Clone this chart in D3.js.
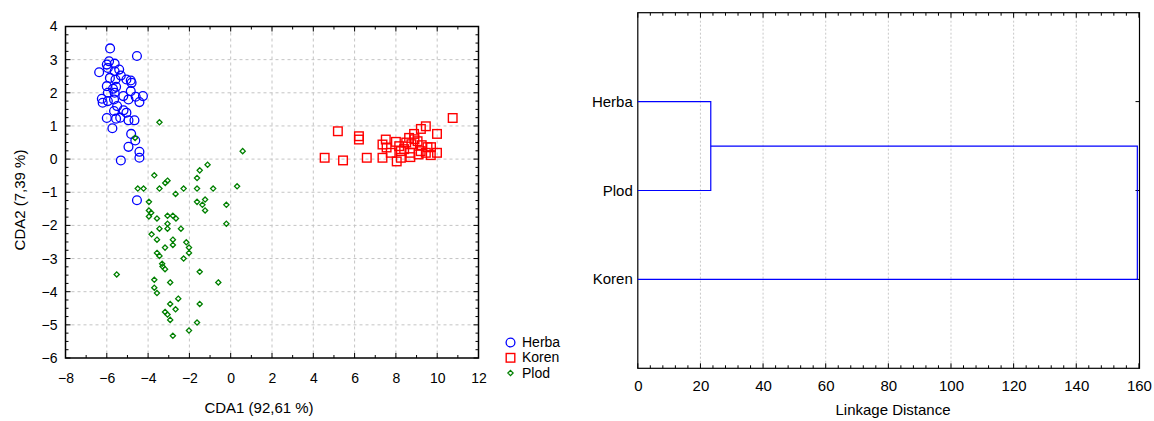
<!DOCTYPE html>
<html>
<head>
<meta charset="utf-8">
<script src="https://cdn.jsdelivr.net/npm/d3@7"></script>
<style>
  html, body { margin: 0; padding: 0; background: #fff; }
  svg { display: block; font-family: "Liberation Sans", Arial, sans-serif; }
</style>
</head>
<body>
<svg id="chart" width="1154" height="421"></svg>
<script>
// ---------------- DATA ----------------
const groups = ["Herba", "Koren", "Plod"];

const herbaPoints = [
  [-5.84,3.34],[-4.54,3.11],[-5.89,2.95],[-5.62,2.88],[-6.00,2.85],[-6.37,2.62],[-5.95,2.75],
  [-5.62,2.65],[-5.40,2.70],[-5.32,2.52],[-5.85,2.45],[-5.58,2.40],[-5.05,2.40],[-4.84,2.37],
  [-4.80,2.30],[-6.00,2.20],[-5.55,2.18],[-5.70,2.12],[-4.84,2.05],[-5.95,2.00],[-5.62,2.00],
  [-5.20,1.90],[-4.25,1.90],[-6.24,1.82],[-5.95,1.75],[-5.65,1.80],[-4.95,1.80],[-4.60,1.88],
  [-4.42,1.72],[-6.20,1.70],[-5.50,1.60],[-5.65,1.45],[-5.19,1.47],[-5.05,1.40],[-6.00,1.24],
  [-5.55,1.22],[-5.35,1.25],[-4.95,1.17],[-4.66,1.17],[-5.73,0.93],[-4.82,0.76],[-4.62,0.56],
  [-4.95,0.37],[-4.42,0.22],[-4.42,0.04],[-5.32,-0.04],[-4.54,-1.24]
];

const korenPoints = [
  [10.75,1.24],[9.45,0.99],[9.21,0.91],[8.88,0.76],[9.99,0.76],[5.19,0.84],[6.21,0.69],
  [6.21,0.59],[7.51,0.59],[8.00,0.52],[8.64,0.64],[9.05,0.54],[8.90,0.60],[7.35,0.44],
  [7.55,0.35],[8.16,0.39],[8.75,0.45],[9.53,0.36],[9.25,0.42],[9.70,0.36],[7.75,0.19],
  [8.24,0.24],[8.69,0.19],[9.20,0.24],[9.45,0.19],[9.99,0.19],[9.69,0.12],[9.10,0.14],
  [7.35,0.04],[8.24,0.04],[8.70,0.06],[4.55,0.04],[5.44,-0.04],[6.59,0.04],[8.04,-0.07],
  [8.50,0.50],[8.40,0.30]
];

const plodPoints = [
  [-3.45,1.11],[-4.63,0.64],[0.58,0.24],[-1.12,-0.17],[-1.50,-0.34],[-3.70,-0.49],[-3.06,-0.65],
  [-3.17,-0.72],[-1.63,-0.57],[-4.50,-0.89],[-4.22,-0.89],[-3.45,-0.89],[-2.28,-0.89],[-1.63,-0.89],
  [-0.85,-0.89],[0.31,-0.82],[-2.67,-1.05],[-3.96,-1.29],[-1.63,-1.29],[-1.24,-1.22],[-1.37,-1.38],
  [-0.21,-1.38],[-1.24,-1.55],[-3.96,-1.55],[-3.85,-1.62],[-3.96,-1.73],[-3.57,-1.79],[-3.06,-1.71],
  [-2.80,-1.71],[-2.65,-1.79],[-3.06,-1.95],[-0.21,-1.95],[-3.45,-2.10],[-3.06,-2.10],[-2.41,-2.10],
  [-3.83,-2.27],[-3.57,-2.43],[-2.80,-2.43],[-2.80,-2.59],[-3.18,-2.67],[-2.15,-2.51],[-2.02,-2.67],
  [-2.02,-2.83],[-3.57,-2.83],[-3.45,-2.92],[-2.28,-3.00],[-3.32,-3.16],[-3.30,-3.24],[-3.18,-3.32],
  [-5.52,-3.48],[-1.50,-3.40],[-3.70,-3.64],[-2.93,-3.72],[-0.60,-3.72],[-3.70,-3.88],[-3.57,-4.04],
  [-2.54,-4.21],[-2.93,-4.37],[-1.50,-4.37],[-2.67,-4.53],[-3.18,-4.61],[-3.06,-4.69],[-2.93,-4.85],
  [-1.63,-4.93],[-2.02,-5.17],[-2.80,-5.33]
];

const xTicks = [-8,-6,-4,-2,0,2,4,6,8,10,12];
const yTicks = [-6,-5,-4,-3,-2,-1,0,1,2,3,4];
const xTitle = "CDA1 (92,61 %)";
const yTitle = "CDA2 (7,39 %)";

// Dendrogram
const leaves = ["Herba", "Plod", "Koren"];
const linkageDistances = [23.3, 159.5]; // Herba+Plod, then (Herba,Plod)+Koren
const dTicks = [0,20,40,60,80,100,120,140,160];
const dTitle = "Linkage Distance";

// ---------------- DRAW ----------------
const svg = d3.select("#chart");
const blue = "#0000ff", red = "#ff0000", green = "#008000";
const gridCol = "#c4c4c4";

// ===== Left: scatter =====
const L = {x0: 65.5, x1: 478.5, y0: 26.5, y1: 358};
const x = d3.scaleLinear().domain([-8, 12]).range([L.x0, L.x1]);
const y = d3.scaleLinear().domain([-6, 4]).range([L.y1, L.y0]);

const gL = svg.append("g");
// grid
gL.append("g").selectAll("line").data(xTicks.slice(1, -1)).join("line")
  .attr("x1", d => x(d)).attr("x2", d => x(d)).attr("y1", L.y0).attr("y2", L.y1)
  .attr("stroke", gridCol).attr("stroke-dasharray", "3,3").attr("stroke-width", 1);
gL.append("g").selectAll("line").data(yTicks.slice(1, -1)).join("line")
  .attr("y1", d => y(d)).attr("y2", d => y(d)).attr("x1", L.x0).attr("x2", L.x1)
  .attr("stroke", gridCol).attr("stroke-dasharray", "3,3").attr("stroke-width", 1);

// minor/major ticks (inward)
const xMinor = d3.range(-8, 12.001, 1);
const yMinor = d3.range(-6, 4.001, 0.25);
const tickG = gL.append("g").attr("stroke", "#000").attr("stroke-width", 1);
xMinor.forEach(v => {
  const major = Math.abs(v % 2) < 1e-9;
  const len = major ? 5 : 3;
  tickG.append("line").attr("x1", x(v)).attr("x2", x(v)).attr("y1", L.y1).attr("y2", L.y1 - len);
  tickG.append("line").attr("x1", x(v)).attr("x2", x(v)).attr("y1", L.y0).attr("y2", L.y0 + len);
});
yMinor.forEach(v => {
  const major = Math.abs(v - Math.round(v)) < 1e-9;
  const len = major ? 5 : 3;
  tickG.append("line").attr("y1", y(v)).attr("y2", y(v)).attr("x1", L.x0).attr("x2", L.x0 + len);
  tickG.append("line").attr("y1", y(v)).attr("y2", y(v)).attr("x1", L.x1).attr("x2", L.x1 - len);
});

// axes labels via d3 axes (no lines)
const xAxis = d3.axisBottom(x).tickValues(xTicks).tickSize(0).tickPadding(0).tickFormat(d3.format("d"));
const xa = gL.append("g").attr("transform", `translate(0,${L.y1 + 15})`).call(xAxis);
xa.select(".domain").remove();
xa.selectAll("text").attr("font-size", 14).attr("fill", "#000")
  .attr("font-family", "Liberation Sans, Arial, sans-serif");

const yAxis = d3.axisLeft(y).tickValues(yTicks).tickSize(0).tickPadding(0).tickFormat(d3.format("d"));
const ya = gL.append("g").attr("transform", `translate(${L.x0 - 8},0)`).call(yAxis);
ya.select(".domain").remove();
ya.selectAll("text").attr("font-size", 14).attr("fill", "#000")
  .attr("font-family", "Liberation Sans, Arial, sans-serif");

// frame
gL.append("rect").attr("x", L.x0).attr("y", L.y0).attr("width", L.x1 - L.x0).attr("height", L.y1 - L.y0)
  .attr("fill", "none").attr("stroke", "#000").attr("stroke-width", 1.5);

// titles
gL.append("text").attr("x", 259).attr("y", 413).attr("text-anchor", "middle")
  .attr("font-size", 15).text(xTitle);
gL.append("text").attr("transform", "translate(25,200) rotate(-90)").attr("text-anchor", "middle")
  .attr("font-size", 15).text(yTitle);

// points
const pts = gL.append("g");
pts.selectAll("circle.h").data(herbaPoints).join("circle").attr("class", "h")
  .attr("cx", d => x(d[0])).attr("cy", d => y(d[1])).attr("r", 4.4)
  .attr("fill", "none").attr("stroke", blue).attr("stroke-width", 1.3);
pts.selectAll("path.p").data(plodPoints).join("path").attr("class", "p")
  .attr("d", d => { const cx = x(d[0]), cy = y(d[1]), s = 2.6;
    return `M${cx},${cy - s}L${cx + s},${cy}L${cx},${cy + s}L${cx - s},${cy}Z`; })
  .attr("fill", "none").attr("stroke", green).attr("stroke-width", 1.3);
pts.selectAll("rect.k").data(korenPoints).join("rect").attr("class", "k")
  .attr("x", d => x(d[0]) - 4.3).attr("y", d => y(d[1]) - 4.3).attr("width", 8.6).attr("height", 8.6)
  .attr("fill", "none").attr("stroke", red).attr("stroke-width", 1.4);

// legend
const lg = svg.append("g");
const legY = [342.5, 357.8, 373];
groups.forEach((g, i) => {
  const cx = 510.5, cy = legY[i];
  if (g === "Herba") lg.append("circle").attr("cx", cx).attr("cy", cy).attr("r", 4.4)
    .attr("fill", "none").attr("stroke", blue).attr("stroke-width", 1.3);
  if (g === "Koren") lg.append("rect").attr("x", cx - 4.3).attr("y", cy - 4.3).attr("width", 8.6).attr("height", 8.6)
    .attr("fill", "none").attr("stroke", red).attr("stroke-width", 1.4);
  if (g === "Plod") lg.append("path").attr("d", `M${cx},${cy - 2.6}L${cx + 2.6},${cy}L${cx},${cy + 2.6}L${cx - 2.6},${cy}Z`)
    .attr("fill", "none").attr("stroke", green).attr("stroke-width", 1.3);
  lg.append("text").attr("x", 522).attr("y", cy + 4.5).attr("font-size", 14).text(g);
});

// ===== Right: dendrogram =====
const R = {x0: 637.8, x1: 1139.5, y0: 12.7, y1: 368.3};
const dx = d3.scaleLinear().domain([0, 160]).range([R.x0, R.x0 + (1138.9 - 637.8)]);
const dy = d3.scalePoint().domain(leaves).range([R.y0, R.y1]).padding(1);

const gR = svg.append("g");
gR.append("g").selectAll("line").data(dTicks.slice(1, -1)).join("line")
  .attr("x1", d => dx(d)).attr("x2", d => dx(d)).attr("y1", R.y0).attr("y2", R.y1)
  .attr("stroke", "#c8c8c8").attr("stroke-dasharray", "2,2").attr("stroke-width", 1);

const tR = gR.append("g").attr("stroke", "#000").attr("stroke-width", 1);
d3.range(0, 160.001, 4).forEach(v => {
  const len = (v % 20 === 0) ? 5 : 3;
  tR.append("line").attr("x1", dx(v)).attr("x2", dx(v)).attr("y1", R.y1).attr("y2", R.y1 - len);
  tR.append("line").attr("x1", dx(v)).attr("x2", dx(v)).attr("y1", R.y0).attr("y2", R.y0 + len);
});
leaves.forEach(l => {
  tR.append("line").attr("x1", R.x1).attr("x2", R.x1 - 4).attr("y1", dy(l)).attr("y2", dy(l));
});

const dAxis = d3.axisBottom(dx).tickValues(dTicks).tickSize(0).tickPadding(0).tickFormat(d3.format("d"));
const da = gR.append("g").attr("transform", `translate(0,${R.y1 + 12})`).call(dAxis);
da.select(".domain").remove();
da.selectAll("text").attr("font-size", 15).attr("fill", "#000")
  .attr("font-family", "Liberation Sans, Arial, sans-serif");

gR.append("rect").attr("x", R.x0).attr("y", R.y0).attr("width", R.x1 - R.x0).attr("height", R.y1 - R.y0)
  .attr("fill", "none").attr("stroke", "#000").attr("stroke-width", 1.2);

// leaf labels
gR.append("g").selectAll("text").data(leaves).join("text")
  .attr("x", R.x0 - 5).attr("y", d => dy(d) + 5).attr("text-anchor", "end")
  .attr("font-size", 15).text(d => d);

// dendrogram links
const m1 = linkageDistances[0], m2 = linkageDistances[1];
const yH = dy("Herba"), yP = dy("Plod"), yK = dy("Koren");
const yM1 = (yH + yP) / 2;
const link = gR.append("g").attr("fill", "none").attr("stroke", blue).attr("stroke-width", 1.2);
link.append("path").attr("d", `M${dx(0)},${yH}H${dx(m1)}V${yP}H${dx(0)}`);
link.append("path").attr("d", `M${dx(m1)},${yM1}H${dx(m2)}V${yK}H${dx(0)}`);

gR.append("text").attr("x", 893).attr("y", 415).attr("text-anchor", "middle")
  .attr("font-size", 15).text(dTitle);
</script>
</body>
</html>
